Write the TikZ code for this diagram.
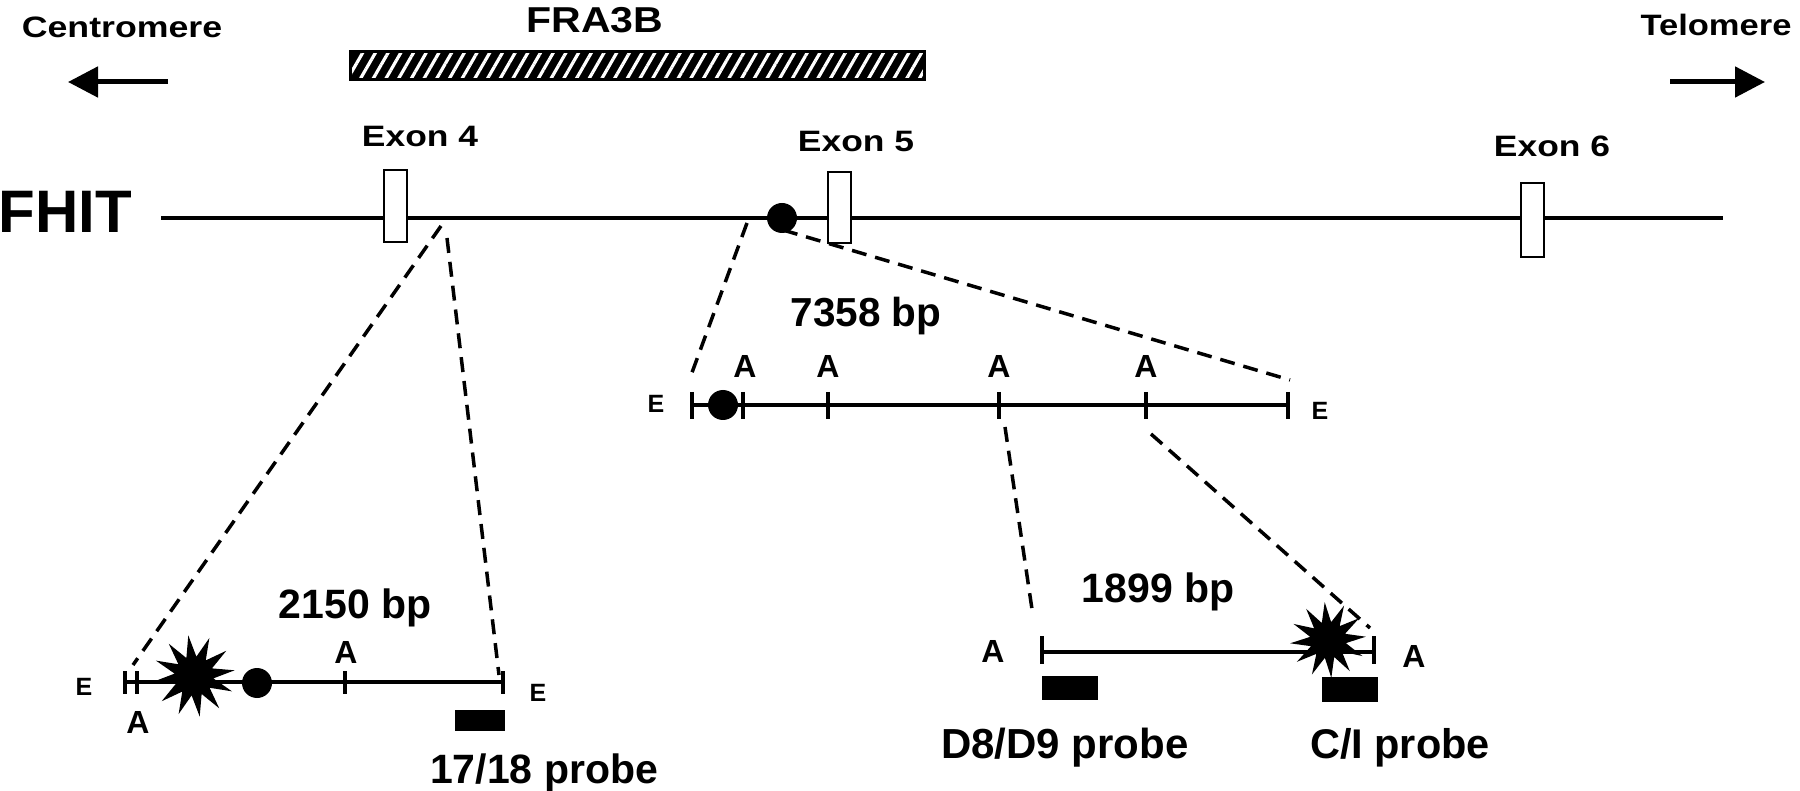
\documentclass[tikz,border=0pt]{standalone}
\usepackage{fontspec}
\setmainfont{Liberation Sans}
\usetikzlibrary{arrows.meta,shapes.geometric,patterns.meta}
\newcommand{\widetxt}[2]{\scalebox{#1}[1]{#2}}
\begin{document}
\begin{tikzpicture}[x=1pt,y=-1pt,
  lbl/.style={font=\bfseries\fontsize{#1}{#1}\selectfont, inner sep=0pt, anchor=base},
  lbl/.default=32,
  gene/.style={line width=4pt},
  dna/.style={line width=3.5pt},
  tk/.style={line width=4.5pt},
  zoomline/.style={line width=3.5pt, dash pattern=on 15pt off 9pt},
  exonbox/.style={draw, line width=2pt, fill=white, minimum width=23pt, inner sep=0pt},
  probe/.style={fill=black, draw=none, inner sep=0pt},
  dot/.style={circle, fill=black, inner sep=0pt, minimum size=#1},
  burst/.style={star, star points=12, star point ratio=2.1, fill=black, inner sep=0pt, minimum size=#1},
  dirarrow/.style={line width=5pt, -{Triangle[length=30pt,width=30pt]}}
]
\useasboundingbox (0,0) rectangle (1800,791);

% ---- headings
\node[lbl=29.5] (centro) at (122,38) {\widetxt{1.21}{Centromere}};
\node[lbl=29.5] (telo) at (1716,36) {\widetxt{1.17}{Telomere}};
\node[lbl=36] (fra) at (595,33) {\widetxt{1.14}{FRA3B}};
\coordinate (cAs) at (168,82); \coordinate (cAe) at (68,82);
\draw[dirarrow] (cAs) -- (cAe);
\coordinate (tAs) at (1670,82); \coordinate (tAe) at (1765,82);
\draw[dirarrow] (tAs) -- (tAe);
\node[draw=black, line width=3pt, preaction={fill=black},
      pattern={Lines[angle=60,distance=11pt,line width=3.2pt]}, pattern color=white,
      minimum width=574pt, minimum height=28pt, inner sep=0pt] (frabar) at (637,66) {};

% ---- FHIT gene line
\node[lbl=60] (fhit) at (65,233) {FHIT};
\coordinate (gL) at (161,218); \coordinate (gR) at (1723,218);
\draw[gene] (gL) -- (gR);
\node[exonbox, minimum height=72pt] (ex4) at (395,206) {};
\node[exonbox, minimum height=71pt] (ex5) at (839,208) {};
\node[exonbox, minimum height=74pt] (ex6) at (1532,220) {};
\node[lbl=29.5] (ex4l) at (420,147) {\widetxt{1.2}{Exon 4}};
\node[lbl=29.5] (ex5l) at (856,152) {\widetxt{1.2}{Exon 5}};
\node[lbl=29.5] (ex6l) at (1552,157) {\widetxt{1.2}{Exon 6}};
\node[dot=30pt] (gdot) at (782,218) {};

% ---- 2150 bp fragment
\coordinate (aL) at (125,682); \coordinate (aR) at (503,682);
\draw[dna] (aL) -- (aR);
\foreach \x/\n in {125/a1,137/a2,345/a3,503/a4}{
  \coordinate (\n t) at (\x,671); \coordinate (\n b) at (\x,694);
  \draw[tk] (\n t) -- (\n b);
}
\node[burst=82pt, rotate=8] (aburst) at (194,676) {};
\node[dot=30pt] (adot) at (257,683) {};
\node[lbl=25] (aE1) at (84,695) {E};
\node[lbl] (aA1) at (138,733) {A};
\node[lbl] (aA2) at (346,663) {A};
\node[lbl=25] (aE2) at (538,701) {E};
\node[lbl=41] (abp) at (355,618) {2150 bp};
\node[probe, minimum width=50pt, minimum height=21pt] (pr1718) at (480,720) {};
\node[lbl=41] (pr1718l) at (544,783) {17/18 probe};

% ---- 7358 bp fragment
\coordinate (bL) at (692,405); \coordinate (bR) at (1288,405);
\draw[dna] (bL) -- (bR);
\foreach \x/\n in {692/b0,743/b1,828/b2,999/b3,1146/b4,1288/b5}{
  \coordinate (\n t) at (\x,392); \coordinate (\n b) at (\x,419);
  \draw[tk] (\n t) -- (\n b);
}
\node[dot=30pt] (bdot) at (723,405) {};
\node[lbl=25] (bE1) at (656,413) {E};
\node[lbl=25] (bE2) at (1320,420) {E};
\foreach \x/\n in {745/1,828/2,999/3,1146/4}{
  \node[lbl] (bA\n) at (\x,378) {A};
}
\node[lbl=40.5] (bbp) at (866,327) {7358 bp};

% ---- 1899 bp fragment
\coordinate (cL) at (1042,652); \coordinate (cR) at (1374,652);
\draw[dna] (cL) -- (cR);
\foreach \x/\n in {1042/c1,1374/c2}{
  \coordinate (\n t) at (\x,636); \coordinate (\n b) at (\x,664);
  \draw[tk] (\n t) -- (\n b);
}
\node[burst=76pt, rotate=5] (cburst) at (1328,640) {};
\node[lbl] (cA1) at (993,662) {A};
\node[lbl] (cA2) at (1414,667) {A};
\node[lbl=41] (cbp) at (1158,602) {1899 bp};
\node[probe, minimum width=56pt, minimum height=24pt] (prD) at (1070,688) {};
\node[probe, minimum width=56pt, minimum height=25pt] (prC) at (1350,689) {};
\node[lbl=42] (prDl) at (1065,758) {D8/D9 probe};
\node[lbl=41.5] (prCl) at (1400,758) {C/I probe};

% ---- zoom connectors
\coordinate (z1a) at (441,226); \coordinate (z1b) at (447,238);
\coordinate (z1c) at (133,665); \coordinate (z1d) at (499,675);
\draw[zoomline] (z1a) -- (z1c);
\draw[zoomline] (z1b) -- (z1d);
\coordinate (z2a) at (747,223); \coordinate (z2b) at (783,230);
\coordinate (z2c) at (690,378); \coordinate (z2d) at (1290,380);
\draw[zoomline] (z2a) -- (z2c);
\draw[zoomline] (z2b) -- (z2d);
\coordinate (z3a) at (1005,427); \coordinate (z3b) at (1151,434);
\coordinate (z3c) at (1033,616); \coordinate (z3d) at (1370,628);
\draw[zoomline] (z3a) -- (z3c);
\draw[zoomline] (z3b) -- (z3d);
\end{tikzpicture}
\end{document}
